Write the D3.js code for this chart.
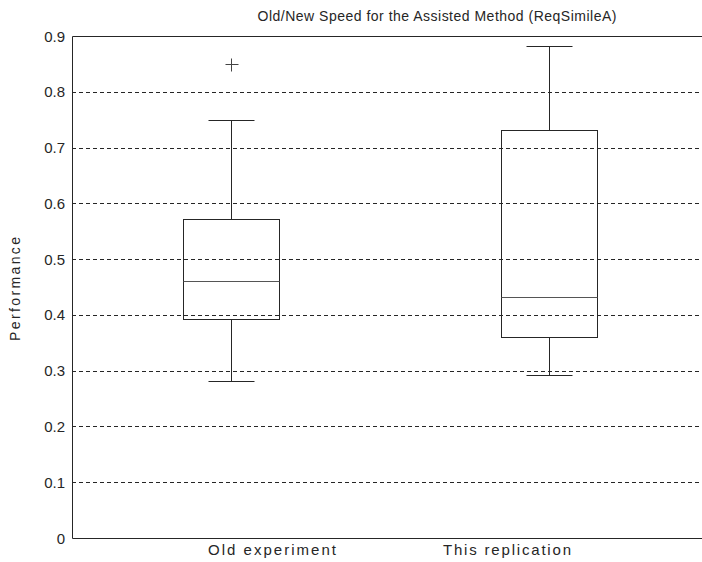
<!DOCTYPE html>
<html><head><meta charset="utf-8">
<script src="https://cdn.jsdelivr.net/npm/d3@7"></script>
<style>body{margin:0;background:#fff;} svg{display:block;}</style>
</head><body>
<svg id="c" width="702" height="562"></svg>
<script>
const categories = ["Old experiment", "This replication"];
const whiskerLow = [0.281, 0.292];
const q1 = [0.392, 0.361];
const median = [0.460, 0.432];
const q3 = [0.572, 0.732];
const whiskerHigh = [0.750, 0.882];
const outliers = [[0.850], []];
const yTicks = [0, 0.1, 0.2, 0.3, 0.4, 0.5, 0.6, 0.7, 0.8, 0.9];
const yTickLabels = ["0", "0.1", "0.2", "0.3", "0.4", "0.5", "0.6", "0.7", "0.8", "0.9"];
const title = "Old/New Speed for the Assisted Method (ReqSimileA)";
const yLabel = "Performance";

const svg = d3.select("#c");
const L = 72, R = 708, T = 36, B = 538;
const x = d3.scaleLinear().domain([0.5, 2.5]).range([L, R]);
const y = d3.scaleLinear().domain([0, 0.9]).range([B, T]);
const xLab = d3.scalePoint().domain(categories).range([272, 507]);
const font = "'Liberation Sans', Arial, sans-serif";
const ink = "#262626";
const boxW = 0.305, capW = 0.145;
const cr = v => Math.round(v) + 0.5;

// grid
svg.append("g").selectAll("line").data(yTicks.filter(t => t > 0 && t < 0.9)).join("line")
  .attr("x1", L).attr("x2", R).attr("y1", d => cr(y(d))).attr("y2", d => cr(y(d)))
  .attr("stroke", ink).attr("stroke-width", 1).attr("stroke-dasharray", "4,3");

// axes frame
svg.append("line").attr("x1", cr(L)).attr("x2", cr(L)).attr("y1", cr(T)).attr("y2", cr(B)).attr("stroke", ink);
svg.append("line").attr("x1", cr(L)).attr("x2", R).attr("y1", cr(T)).attr("y2", cr(T)).attr("stroke", ink);
svg.append("line").attr("x1", cr(L)).attr("x2", R).attr("y1", cr(B)).attr("y2", cr(B)).attr("stroke", ink);

// y tick labels
svg.append("g").selectAll("text").data(yTicks).join("text")
  .attr("x", L - 7).attr("y", d => y(d) + 5.5)
  .attr("text-anchor", "end").attr("font-family", font).attr("font-size", 15)
  .attr("fill", ink).text((d, i) => yTickLabels[i]);

// boxes
const g = svg.append("g").attr("fill", "none").attr("stroke", ink).attr("stroke-width", 1);
categories.forEach((c, i) => {
  const p = i + 1;
  const xl = cr(x(p - boxW / 2)), xr = cr(x(p + boxW / 2)), xc = cr(x(p));
  g.append("rect").attr("x", xl).attr("y", cr(y(q3[i])))
    .attr("width", xr - xl).attr("height", cr(y(q1[i])) - cr(y(q3[i])));
  g.append("line").attr("x1", xl).attr("x2", xr).attr("y1", cr(y(median[i]))).attr("y2", cr(y(median[i]))).attr("stroke", "#555");
  g.append("line").attr("x1", xc).attr("x2", xc).attr("y1", cr(y(q3[i]))).attr("y2", cr(y(whiskerHigh[i])));
  g.append("line").attr("x1", xc).attr("x2", xc).attr("y1", cr(y(q1[i]))).attr("y2", cr(y(whiskerLow[i])));
  [whiskerHigh[i], whiskerLow[i]].forEach(w => {
    g.append("line").attr("x1", cr(x(p - capW / 2))).attr("x2", cr(x(p + capW / 2)))
      .attr("y1", cr(y(w))).attr("y2", cr(y(w)));
  });
  outliers[i].forEach(o => {
    const oy = cr(y(o));
    g.append("line").attr("x1", xc - 6).attr("x2", xc + 7).attr("y1", oy).attr("y2", oy).attr("stroke", "#444");
    g.append("line").attr("x1", xc).attr("x2", xc).attr("y1", oy - 6).attr("y2", oy + 7).attr("stroke", "#444");
  });
});

// x labels
svg.append("g").selectAll("text").data(categories).join("text")
  .attr("x", d => xLab(d)).attr("y", 555).attr("text-anchor", "middle")
  .attr("font-family", font).attr("font-size", 15).attr("fill", ink)
  .attr("textLength", 128).attr("lengthAdjust", "spacing").text(d => d);

// title
svg.append("text").attr("x", 437).attr("y", 21).attr("text-anchor", "middle")
  .attr("font-family", font).attr("font-size", 14).attr("fill", ink)
  .attr("textLength", 359).attr("lengthAdjust", "spacing").text(title);

// y label
svg.append("text").attr("transform", "translate(20,289) rotate(-90)").attr("text-anchor", "middle")
  .attr("font-family", font).attr("font-size", 14).attr("fill", ink)
  .attr("textLength", 104).attr("lengthAdjust", "spacing").text(yLabel);
</script>
</body></html>
